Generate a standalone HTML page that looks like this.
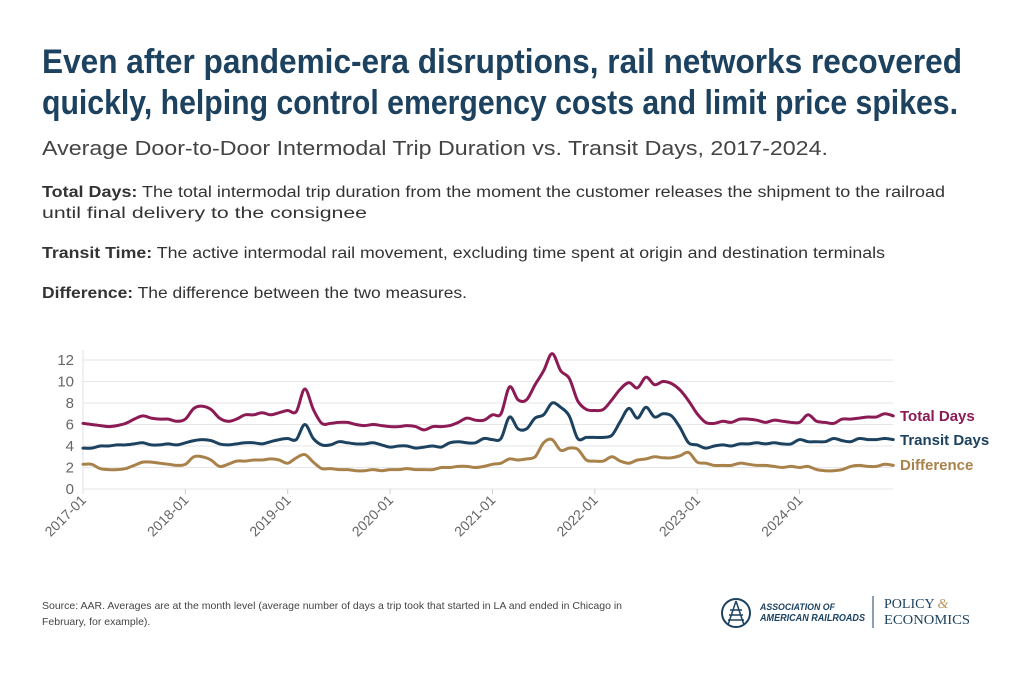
<!DOCTYPE html>
<html><head><meta charset="utf-8"><style>
html,body{margin:0;padding:0;background:#fff;}
svg{display:block;}
text{font-family:"Liberation Sans",sans-serif;}
</style></head><body>
<svg id="s" width="1024" height="683" viewBox="0 0 1024 683" xmlns="http://www.w3.org/2000/svg">
<rect width="1024" height="683" fill="#fff"/>
<g font-weight="bold" font-size="34" fill="#1c4260">
<text x="42" y="73" textLength="920" lengthAdjust="spacingAndGlyphs" style="font-family:'Liberation Sans Narrow','Liberation Sans',sans-serif">Even after pandemic-era disruptions, rail networks recovered</text>
<text x="42" y="114" textLength="916" lengthAdjust="spacingAndGlyphs" style="font-family:'Liberation Sans Narrow','Liberation Sans',sans-serif">quickly, helping control emergency costs and limit price spikes.</text>
</g>
<text x="42" y="155" font-size="20" fill="#444" textLength="786" lengthAdjust="spacingAndGlyphs">Average Door-to-Door Intermodal Trip Duration vs. Transit Days, 2017-2024.</text>
<g font-size="15.5" fill="#333">
<text x="42" y="197" textLength="903" lengthAdjust="spacingAndGlyphs"><tspan font-weight="bold">Total Days:</tspan> The total intermodal trip duration from the moment the customer releases the shipment to the railroad</text>
<text x="42" y="218" textLength="325" lengthAdjust="spacingAndGlyphs">until final delivery to the consignee</text>
<text x="42" y="258" textLength="843" lengthAdjust="spacingAndGlyphs"><tspan font-weight="bold">Transit Time:</tspan> The active intermodal rail movement, excluding time spent at origin and destination terminals</text>
<text x="42" y="298" textLength="425" lengthAdjust="spacingAndGlyphs"><tspan font-weight="bold">Difference:</tspan> The difference between the two measures.</text>
</g>
<g id="grid" stroke="#e6e6e6" stroke-width="1"></g>
<line x1="83" y1="350" x2="83" y2="494" stroke="#e0e0e0"/>
<g id="ylab" font-size="15" fill="#666" text-anchor="end"></g>
<g id="xlab" font-size="14" fill="#666"></g>
<g id="lines" fill="none" stroke-width="3" stroke-linejoin="round" stroke-linecap="round"></g>
<g font-size="15" font-weight="bold">
<text x="900" y="421" fill="#8b1a55">Total Days</text>
<text x="900" y="445" fill="#1c4260">Transit Days</text>
<text x="900" y="470" fill="#a8824a">Difference</text>
</g>
<g font-size="10.5" fill="#444">
<text x="42" y="609">Source: AAR. Averages are at the month level (average number of days a trip took that started in LA and ended in Chicago in</text>
<text x="42" y="625">February, for example).</text>
</g>
<g>
<circle cx="736" cy="613" r="14" fill="none" stroke="#1c4260" stroke-width="2"/>
<path d="M736 601 L728 625 M736 601 L744 625 M730 610 H742 M729 615 H743 M728 620 H744" stroke="#1c4260" stroke-width="1.5" fill="none"/>
<text x="760" y="610" font-size="9" fill="#1c4260" font-weight="bold" font-style="italic" textLength="75" lengthAdjust="spacingAndGlyphs">ASSOCIATION OF</text>
<text x="760" y="621" font-size="10" fill="#1c4260" font-weight="bold" font-style="italic" textLength="105" lengthAdjust="spacingAndGlyphs">AMERICAN RAILROADS</text>
<line x1="873" y1="596" x2="873" y2="628" stroke="#1c4260" stroke-width="1"/>
<text x="884" y="608" font-size="14" fill="#1c4260" style="font-family:'Liberation Serif',serif">POLICY <tspan fill="#b8935a" font-style="italic">&amp;</tspan></text>
<text x="884" y="624" font-size="14" fill="#1c4260" style="font-family:'Liberation Serif',serif" textLength="86" lengthAdjust="spacingAndGlyphs">ECONOMICS</text>
</g>
</svg>
<script>
const NS="http://www.w3.org/2000/svg";
const T=[6.1,6.0,5.9,5.8,5.9,6.1,6.5,6.8,6.6,6.5,6.5,6.3,
6.5,7.5,7.7,7.4,6.6,6.3,6.5,6.9,6.9,7.1,6.9,7.1,
7.3,7.2,9.3,7.4,6.1,6.1,6.2,6.2,6.0,5.9,6.0,5.9,
5.8,5.8,5.9,5.8,5.5,5.8,5.8,5.9,6.2,6.6,6.4,6.4,
6.9,7.0,9.5,8.3,8.3,9.7,11.0,12.6,11.0,10.3,8.2,7.4,
7.3,7.4,8.3,9.3,9.9,9.4,10.4,9.7,10.0,9.8,9.2,8.2,
7.0,6.2,6.1,6.3,6.2,6.5,6.5,6.4,6.2,6.4,6.3,6.2,
6.2,6.9,6.3,6.2,6.1,6.5,6.5,6.6,6.7,6.7,7.0,6.8];
const R=[3.8,3.8,4.0,4.0,4.1,4.1,4.2,4.3,4.1,4.1,4.2,4.1,
4.3,4.5,4.6,4.5,4.2,4.1,4.2,4.3,4.3,4.2,4.4,4.6,
4.7,4.6,6.0,4.7,4.1,4.1,4.4,4.3,4.2,4.2,4.3,4.1,
3.9,4.0,4.0,3.8,3.9,4.0,3.9,4.3,4.4,4.3,4.3,4.7,
4.6,4.7,6.7,5.6,5.6,6.6,6.9,8.0,7.6,6.8,4.7,4.8,
4.8,4.8,5.0,6.3,7.5,6.6,7.6,6.7,7.0,6.8,5.7,4.3,
4.1,3.8,4.0,4.1,4.0,4.2,4.2,4.3,4.2,4.3,4.2,4.2,
4.6,4.4,4.4,4.4,4.7,4.5,4.4,4.7,4.6,4.6,4.7,4.6];
const D=[2.3,2.3,1.9,1.8,1.8,1.9,2.2,2.5,2.5,2.4,2.3,2.2,
2.3,3.0,3.0,2.7,2.1,2.3,2.6,2.6,2.7,2.7,2.8,2.7,
2.4,2.9,3.2,2.5,1.9,1.9,1.8,1.8,1.7,1.7,1.8,1.7,
1.8,1.8,1.9,1.8,1.8,1.8,2.0,2.0,2.1,2.1,2.0,2.1,
2.3,2.4,2.8,2.7,2.8,3.0,4.3,4.6,3.6,3.8,3.7,2.7,
2.6,2.6,3.0,2.6,2.4,2.7,2.8,3.0,2.9,2.9,3.1,3.4,
2.5,2.4,2.2,2.2,2.2,2.4,2.3,2.2,2.2,2.1,2.0,2.1,
2.0,2.1,1.8,1.7,1.7,1.8,2.1,2.2,2.1,2.1,2.3,2.2];
const X=i=>83+i*8.53, Y=v=>489-v*10.75;
const g=document.getElementById('grid'),yl=document.getElementById('ylab'),xl=document.getElementById('xlab'),L=document.getElementById('lines');
for(let v=0;v<=12;v+=2){let l=document.createElementNS(NS,'line');l.setAttribute('x1',83);l.setAttribute('x2',893);l.setAttribute('y1',Y(v));l.setAttribute('y2',Y(v));g.appendChild(l);
let t=document.createElementNS(NS,'text');t.setAttribute('x',74);t.setAttribute('y',Y(v)+5);t.textContent=v;yl.appendChild(t);}
for(let y=0;y<8;y++){let x=X(y*12);let l=document.createElementNS(NS,'line');l.setAttribute('x1',x);l.setAttribute('x2',x);l.setAttribute('y1',489);l.setAttribute('y2',494);l.setAttribute('stroke','#ccc');g.appendChild(l);
let t=document.createElementNS(NS,'text');t.setAttribute('text-anchor','end');t.setAttribute('transform',`translate(${x+4},${501}) rotate(-45)`);t.textContent=(2017+y)+'-01';xl.appendChild(t);}
function path(a,c){const P=a.map((v,i)=>[X(i),Y(v)]);let d='M'+P[0][0].toFixed(1)+' '+P[0][1].toFixed(1);
for(let i=0;i<P.length-1;i++){const p0=P[Math.max(0,i-1)],p1=P[i],p2=P[i+1],p3=P[Math.min(P.length-1,i+2)];const k=6;
d+=`C${(p1[0]+(p2[0]-p0[0])/k).toFixed(1)} ${(p1[1]+(p2[1]-p0[1])/k).toFixed(1)} ${(p2[0]-(p3[0]-p1[0])/k).toFixed(1)} ${(p2[1]-(p3[1]-p1[1])/k).toFixed(1)} ${p2[0].toFixed(1)} ${p2[1].toFixed(1)}`;}
let p=document.createElementNS(NS,'path');p.setAttribute('d',d);p.setAttribute('stroke',c);L.appendChild(p);}
path(D,'#a8824a');path(R,'#1c4260');path(T,'#8b1a55');
</script>
</body></html>
